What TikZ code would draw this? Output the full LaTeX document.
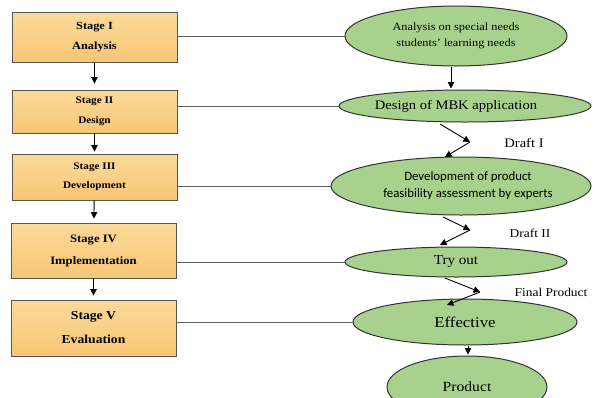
\documentclass[tikz,border=0pt]{standalone}
\usepackage{fontspec}
\setmainfont{Liberation Serif}[FakeStretch=1.12]
\newfontfamily\calib{Carlito}
\usetikzlibrary{shapes.geometric,arrows.meta}
\definecolor{boxtop}{HTML}{FCDA9A}
\definecolor{boxbot}{HTML}{F7C674}
\definecolor{boxedge}{HTML}{555555}
\definecolor{ellfill}{HTML}{A9D18E}
\definecolor{elledge}{HTML}{333333}
\definecolor{linegray}{HTML}{5E5E5E}
\begin{document}
\begin{tikzpicture}[x=1pt,y=-1pt,
  stagebox/.style={draw=boxedge,line width=0.9pt,top color=boxtop,bottom color=boxbot,
    minimum width=165pt,inner sep=0pt,align=center},
  phase/.style={ellipse,draw=elledge,line width=1pt,fill=ellfill,inner sep=0pt,align=center},
  link/.style={draw=linegray,line width=0.8pt},
  arr/.style={line width=0.9pt,-{Triangle[length=6.5pt,width=6.5pt]}},
  lbl/.style={inner sep=0pt}]
\useasboundingbox (0,0) rectangle (595,397);
% stage boxes
\node[stagebox,minimum height=50pt,font=\bfseries\fontsize{11}{20}\selectfont] (b1) at (94.5,37.5) {Stage I\\Analysis};
\node[stagebox,minimum height=43pt,font=\bfseries\fontsize{10}{20}\selectfont] (b2) at (94.5,111.5) {Stage II\\Design};
\node[stagebox,minimum height=46pt,font=\bfseries\fontsize{10}{19}\selectfont] (b3) at (94.5,177) {Stage III\\Development};
\node[stagebox,minimum height=55pt,font=\bfseries\fontsize{11.3}{22}\selectfont] (b4) at (93.5,250.5) {Stage IV\\Implementation};
\node[stagebox,minimum height=56pt,font=\bfseries\fontsize{12.2}{24}\selectfont] (b5) at (93.5,328) {Stage V\\Evaluation};
% ellipses
\node[phase,minimum width=222pt,minimum height=60pt,font=\fontsize{11}{16}\selectfont] (e1) at (456,36) {Analysis on special needs\\students’ learning needs};
\node[phase,minimum width=252pt,minimum height=32pt,font=\fontsize{13}{14}\selectfont] (e2) at (465,106) {\hspace*{-18pt}Design of MBK application};
\node[phase,minimum width=260pt,minimum height=58pt,font=\calib\fontsize{12.8}{17}\selectfont] (e3) at (461,186) {\hspace*{14pt}Development of product\\\hspace*{14pt}feasibility assessment by experts};
\node[phase,minimum width=222pt,minimum height=30pt,font=\fontsize{13.5}{14}\selectfont] (e4) at (456,262) {Try out};
\node[phase,minimum width=224pt,minimum height=46pt,font=\fontsize{15}{17}\selectfont] (e5) at (465,322) {Effective};
\node[phase,minimum width=160pt,minimum height=62pt,font=\fontsize{14}{16}\selectfont] (e6) at (467,387) {Product};
% labels
\node[lbl,font=\fontsize{13}{14}\selectfont] (d1) at (524,143) {Draft I};
\node[lbl,font=\fontsize{12}{13}\selectfont] (d2) at (530,233) {Draft II};
\node[lbl,font=\fontsize{12}{13}\selectfont] (d3) at (551,292) {Final Product};
% stage arrows
\draw[arr,shorten >=6pt] (b1) -- (b2);
\draw[arr,shorten >=2pt] (b2) -- (b3);
\draw[arr,shorten >=4pt] (b3) -- (b4);
\draw[arr,shorten >=4pt] (b4) -- (b5);
% links
\draw[link] (b1.east |- e1.west) -- (e1.west);
\draw[link] (b2.east |- e2.west) -- (e2.west);
\draw[link] (b3.east |- e3.west) -- (e3.west);
\draw[link] (b4.east |- e4.west) -- (e4.west);
\draw[link] (b5.east |- e5.west) -- (e5.west);
% ellipse arrows
\draw[arr,shorten >=1pt] ([xshift=-5pt]e1.south) -- ([xshift=-5pt]e1.south |- e2.north);
\draw[arr,shorten >=1pt] ([xshift=3pt]e5.south) -- ([xshift=3pt]e5.south |- e6.north);
% zigzags
\coordinate (z1s) at (440,124);
\coordinate (z1m) at (470,142);
\coordinate (z1e) at (445,157);
\coordinate (z2s) at (443,217);
\coordinate (z2m) at (470,230);
\coordinate (z2e) at (440,245);
\coordinate (z3s) at (445,278);
\coordinate (z3m) at (480,292);
\coordinate (z3e) at (447,305);
\draw[arr] (z1s) -- (z1m);
\draw[arr] (z1m) -- (z1e);
\draw[arr] (z2s) -- (z2m);
\draw[arr] (z2m) -- (z2e);
\draw[arr] (z3s) -- (z3m);
\draw[arr] (z3m) -- (z3e);
\end{tikzpicture}
\end{document}
